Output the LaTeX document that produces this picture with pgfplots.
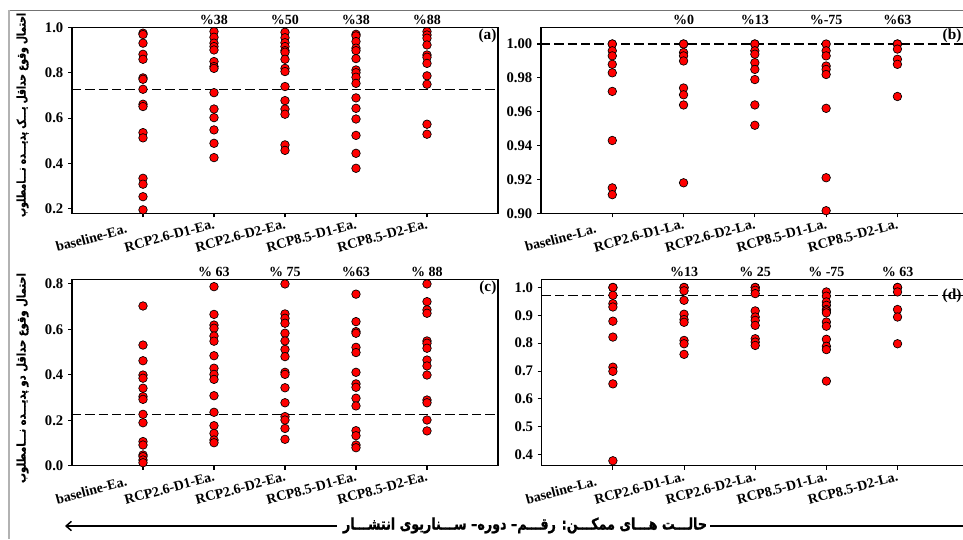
\documentclass[border=0pt]{standalone}
\usepackage{graphicx}
\usepackage{fontspec}
\setmainfont{Liberation Serif}
\newfontfamily\arabicfont[Script=Arabic, BoldFeatures={FakeBold=1.2}]{DejaVu Sans}
\TeXXeTstate=1
\usepackage{pgfplots}
\pgfplotsset{compat=1.18}
\usetikzlibrary{arrows.meta}
\definecolor{mred}{RGB}{255,0,0}
\pgfplotsset{
 panel/.style={
  scale only axis, anchor=south west, clip=false,
  xmin=0, xtick={1,2,3,4,5},
  tick align=outside, major tick length=3pt,
  xtick pos=bottom, ytick pos=left,
  axis line style={-, line width=0.9pt},
  every tick/.style={black, line width=0.8pt},
  x tick label style={rotate=15, anchor=north east, inner sep=1pt, font=\bfseries\fontsize{10.5}{12}\selectfont},
  y tick label style={font=\bfseries\fontsize{11}{12}\selectfont},
  /pgf/number format/assume math mode=true,
  /pgf/number format/fixed, /pgf/number format/fixed zerofill,
 },
 pts/.style={only marks, mark=*, mark size=3.2pt, mark options={fill=mred, draw=black, line width=0.5pt}},
 dl/.style={black, line width=0.9pt, dash pattern=on 7pt off 3pt},
}
\tikzset{
 pl/.style={font=\bfseries\fontsize{10.5}{12}\selectfont, anchor=south, inner sep=1.5pt},
 lab/.style={font=\bfseries\fontsize{11.5}{12}\selectfont, anchor=north east, inner sep=1pt},
}
\begin{document}
\begin{tikzpicture}
\path[use as bounding box] (0,0) rectangle (722.25pt,404.25pt);
\draw[black!55, line width=0.6pt] (7.5pt,396.75pt) -- (722.25pt,396.75pt);
\draw[black!30, line width=1.6pt] (6.5pt,396.75pt) -- (6.5pt,0pt);
% ---------------- (a)
\begin{axis}[panel, at={(54pt,244.3pt)}, width=319.5pt, height=139.5pt,
  xmax=6, ymin=0.181, ymax=1.0, ytick={0.2,0.4,0.6,0.8,1.0},
  yticklabel style={/pgf/number format/precision=1},
  xticklabels={baseline-Ea.\hspace*{13pt}, RCP2.6-D1-Ea., RCP2.6-D2-Ea., RCP8.5-D1-Ea., RCP8.5-D2-Ea.}]
\addplot[dl] coordinates {(0,0.727) (6,0.727)};
\addplot[pts] coordinates {
(1,0.974)(1,0.968)(1,0.930)(1,0.881)(1,0.859)(1,0.777)(1,0.771)(1,0.727)(1,0.661)(1,0.651)(1,0.536)(1,0.513)(1,0.335)(1,0.309)(1,0.254)(1,0.196)
(2,0.981)(2,0.956)(2,0.930)(2,0.915)(2,0.900)(2,0.849)(2,0.827)(2,0.819)(2,0.712)(2,0.640)(2,0.602)(2,0.548)(2,0.489)(2,0.426)
(3,0.978)(3,0.954)(3,0.932)(3,0.915)(3,0.897)(3,0.890)(3,0.859)(3,0.819)(3,0.805)(3,0.739)(3,0.677)(3,0.640)(3,0.617)(3,0.482)(3,0.458)
(4,0.969)(4,0.962)(4,0.937)(4,0.908)(4,0.897)(4,0.862)(4,0.812)(4,0.800)(4,0.780)(4,0.753)(4,0.689)(4,0.643)(4,0.596)(4,0.524)(4,0.445)(4,0.379)
(5,0.981)(5,0.966)(5,0.952)(5,0.922)(5,0.878)(5,0.868)(5,0.841)(5,0.786)(5,0.749)(5,0.573)(5,0.529)
};
\node[pl] at (axis cs:2,1.0) {\%38};
\node[pl] at (axis cs:3,1.0) {\%50};
\node[pl] at (axis cs:4,1.0) {\%38};
\node[pl] at (axis cs:5,1.0) {\%88};
\node[lab] at (rel axis cs:1,1) {(a)};
\end{axis}
% ---------------- (b)
\begin{axis}[panel, at={(405.75pt,244.3pt)}, width=316.5pt, height=139.5pt,
  axis x line*=box, axis y line*=left,
  xmax=5.92, ymin=0.90, ymax=1.0099, ytick={0.90,0.92,0.94,0.96,0.98,1.00},
  yticklabel style={/pgf/number format/precision=2},
  xticklabels={baseline-La.\hspace*{13pt}, RCP2.6-D1-La., RCP2.6-D2-La., RCP8.5-D1-La., RCP8.5-D2-La.}]
\addplot[dl] coordinates {(0,1.0) (5.92,1.0)};
\addplot[pts] coordinates {
(1,1.000)(1,1.000)(1,0.996)(1,0.993)(1,0.988)(1,0.983)(1,0.972)(1,0.943)(1,0.915)(1,0.911)
(2,1.000)(2,1.000)(2,0.995)(2,0.993)(2,0.990)(2,0.974)(2,0.970)(2,0.964)(2,0.918)
(3,1.000)(3,1.000)(3,0.996)(3,0.994)(3,0.989)(3,0.985)(3,0.979)(3,0.964)(3,0.952)
(4,1.000)(4,0.996)(4,0.993)(4,0.987)(4,0.985)(4,0.982)(4,0.962)(4,0.921)(4,0.9015)
(5,1.000)(5,1.000)(5,0.997)(5,0.991)(5,0.988)(5,0.969)
};
\node[pl] at (axis cs:2,1.0099) {\%0};
\node[pl] at (axis cs:3,1.0099) {\%13};
\node[pl] at (axis cs:4,1.0099) {\%-75};
\node[pl] at (axis cs:5,1.0099) {\%63};
\node[lab] at (rel axis cs:1,1) {(b)};
\end{axis}
% ---------------- (c)
\begin{axis}[panel, at={(54pt,55pt)}, width=319.5pt, height=139.7pt,
  xmax=6, ymin=0.0, ymax=0.82, ytick={0,0.2,0.4,0.6,0.8},
  yticklabel style={/pgf/number format/precision=1},
  xticklabels={baseline-Ea.\hspace*{13pt}, RCP2.6-D1-Ea., RCP2.6-D2-Ea., RCP8.5-D1-Ea., RCP8.5-D2-Ea.}]
\addplot[dl] coordinates {(0,0.226) (6,0.226)};
\addplot[pts] coordinates {
(1,0.703)(1,0.531)(1,0.462)(1,0.399)(1,0.385)(1,0.341)(1,0.304)(1,0.292)(1,0.226)(1,0.189)(1,0.106)(1,0.091)(1,0.047)(1,0.040)(1,0.025)(1,0.013)
(2,0.788)(2,0.666)(2,0.619)(2,0.605)(2,0.571)(2,0.548)(2,0.484)(2,0.429)(2,0.402)(2,0.380)(2,0.308)(2,0.235)(2,0.176)(2,0.142)(2,0.113)(2,0.101)
(3,0.800)(3,0.668)(3,0.649)(3,0.627)(3,0.583)(3,0.549)(3,0.512)(3,0.480)(3,0.411)(3,0.402)(3,0.343)(3,0.277)(3,0.216)(3,0.201)(3,0.164)(3,0.116)
(4,0.755)(4,0.634)(4,0.590)(4,0.583)(4,0.521)(4,0.498)(4,0.411)(4,0.360)(4,0.345)(4,0.297)(4,0.263)(4,0.154)(4,0.132)(4,0.091)(4,0.079)
(5,0.800)(5,0.722)(5,0.686)(5,0.671)(5,0.549)(5,0.539)(5,0.517)(5,0.465)(5,0.439)(5,0.399)(5,0.289)(5,0.277)(5,0.201)(5,0.153)
};
\node[pl] at (axis cs:2,0.82) {\% 63};
\node[pl] at (axis cs:3,0.82) {\% 75};
\node[pl] at (axis cs:4,0.82) {\%63};
\node[pl] at (axis cs:5,0.82) {\% 88};
\node[lab] at (rel axis cs:1,1) {(c)};
\end{axis}
% ---------------- (d)
\begin{axis}[panel, at={(406.3pt,55pt)}, width=315.95pt, height=139.7pt,
  axis x line*=box, axis y line*=left,
  xmax=5.92, ymin=0.3604, ymax=1.029, ytick={0.4,0.5,0.6,0.7,0.8,0.9,1.0},
  yticklabel style={/pgf/number format/precision=1},
  xticklabels={baseline-La.\hspace*{13pt}, RCP2.6-D1-La., RCP2.6-D2-La., RCP8.5-D1-La., RCP8.5-D2-La.}]
\addplot[dl] coordinates {(0,0.972) (5.92,0.972)};
\addplot[pts] coordinates {
(1,1.0)(1,1.0)(1,0.972)(1,0.942)(1,0.930)(1,0.879)(1,0.822)(1,0.714)(1,0.699)(1,0.654)(1,0.378)
(2,1.0)(2,1.0)(2,0.988)(2,0.954)(2,0.904)(2,0.885)(2,0.875)(2,0.810)(2,0.798)(2,0.760)
(3,1.0)(3,1.0)(3,0.990)(3,0.978)(3,0.916)(3,0.894)(3,0.882)(3,0.864)(3,0.816)(3,0.804)(3,0.792)
(4,0.984)(4,0.969)(4,0.948)(4,0.936)(4,0.921)(4,0.916)(4,0.909)(4,0.876)(4,0.861)(4,0.814)(4,0.789)(4,0.777)(4,0.664)
(5,1.0)(5,1.0)(5,0.984)(5,0.921)(5,0.894)(5,0.798)
};
\node[pl] at (axis cs:2,1.029) {\%13};
\node[pl] at (axis cs:3,1.029) {\% 25};
\node[pl] at (axis cs:4,1.029) {\% -75};
\node[pl] at (axis cs:5,1.029) {\% 63};
\node[lab, yshift=-6pt] at (rel axis cs:1,1) {(d)};
\end{axis}
% ---------------- Persian labels
\node[rotate=90, inner sep=0pt] at (16.9pt,318pt) {\resizebox*{153pt}{9pt}{\arabicfont\bfseries\beginR احتمال وقوع حداقل یـــک پدیـــده نـــامطلوب\endR}};
\node[rotate=90, inner sep=0pt] at (16.9pt,120.75pt) {\resizebox*{157.5pt}{9pt}{\arabicfont\bfseries\beginR احتمال وقوع حداقل دو پدیـــده نـــامطلوب\endR}};
\draw[line width=1.1pt, -{Straight Barb[length=4pt, width=7pt]}] (252.75pt,9.75pt) -- (48.75pt,9.75pt);
\draw[line width=1.1pt] (532.5pt,9.75pt) -- (722.25pt,9.75pt);
\node[inner sep=0pt] at (393.75pt,10.2pt) {\resizebox*{273pt}{12pt}{\arabicfont\bfseries\beginR حالـــت هـــای ممکـــن: رقـــم– دوره– ســـناریوی انتشـــار\endR}};
\end{tikzpicture}
\end{document}
